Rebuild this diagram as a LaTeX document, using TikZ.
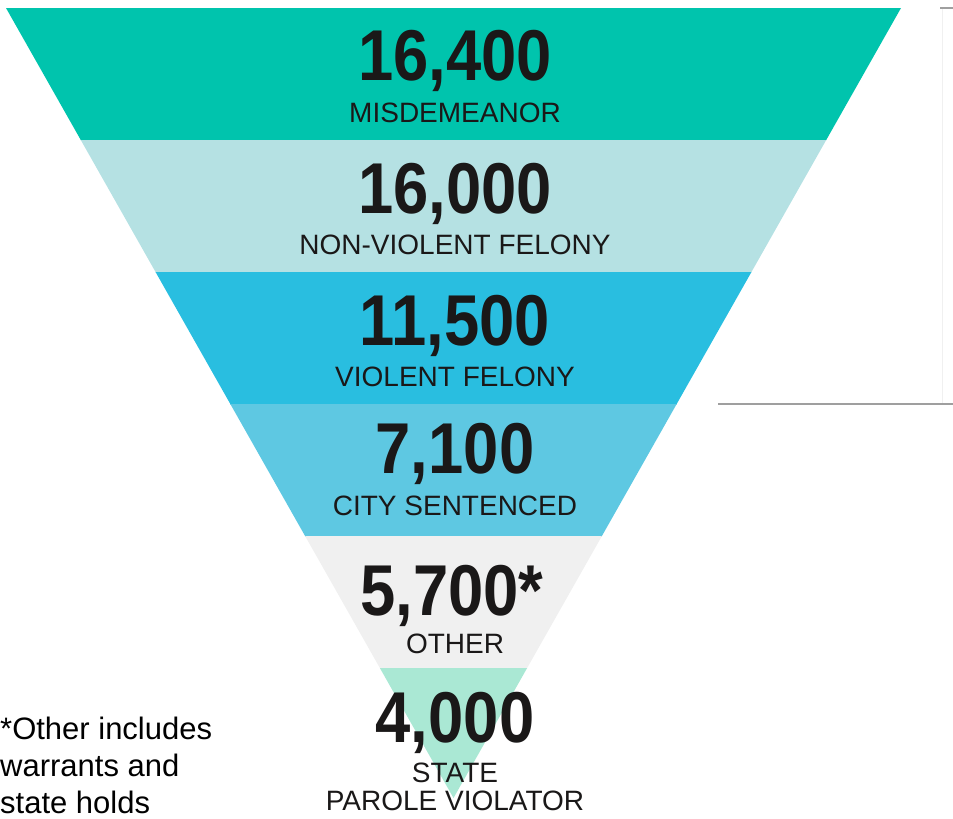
\documentclass[tikz,border=0pt]{standalone}
\usepackage{fontspec}
\setmainfont{Liberation Sans}
\newfontfamily\numfont[FakeStretch=0.88]{Liberation Sans}
\usetikzlibrary{positioning}

\definecolor{misd}{RGB}{0,196,173}
\definecolor{nonviol}{RGB}{181,225,227}
\definecolor{viol}{RGB}{41,190,224}
\definecolor{city}{RGB}{94,200,226}
\definecolor{othr}{RGB}{240,240,240}
\definecolor{parole}{RGB}{170,232,212}
\definecolor{ink}{RGB}{26,24,24}

\tikzset{
  count/.style={anchor=base, text=ink, inner sep=0pt,
    font=\numfont\bfseries\fontsize{72}{72}\selectfont},
  kind/.style={anchor=base, text=ink, inner sep=0pt,
    font=\fontsize{28}{28}\selectfont},
  note/.style={anchor=north west, inner sep=0pt, align=left,
    font=\fontsize{31}{37}\selectfont},
  rule/.style={draw=gray!75, line width=1.5pt}
}

\begin{document}
\begin{tikzpicture}[x=1pt,y=-1pt]
  \useasboundingbox (0,0) rectangle (953,819);

  % Funnel: one band of 132 units per category, clipped to the triangle
  \begin{scope}
    \clip (6,8) -- (901,8) -- (453.5,798) -- cycle;
    \foreach \top/\col in {8/misd, 140/nonviol, 272/viol, 404/city, 536/othr, 668/parole} {
      \fill[\col] (0,\top) rectangle (953,{\top+133});
    }
  \end{scope}

  % Counts and categories
  \node[count] (n1) at (455,80) {16,400};
  \node[kind]  (k1) at (455,122) {MISDEMEANOR};
  \node[count] (n2) at (455,213) {16,000};
  \node[kind]  (k2) at (455,254) {NON-VIOLENT FELONY};
  \node[count] (n3) at (455,345) {11,500};
  \node[kind]  (k3) at (455,386) {VIOLENT FELONY};
  \node[count] (n4) at (455,473) {7,100};
  \node[kind]  (k4) at (455,515) {CITY SENTENCED};
  \node[count] (n5) at (452,615) {5,700*};
  \node[kind]  (k5) at (455,653) {OTHER};
  \node[count] (n6) at (455,742) {4,000};
  \node[kind]  (k6) at (455,782) {STATE};
  \node[kind]  (k7) at (455,810) {PAROLE VIOLATOR};

  % Footnote
  \node[note] (fn) at (0,717) {*Other includes\\warrants and\\state holds};

  % Frame pieces on the right
  \draw[rule, line width=1.2pt] (940,8) -- (953,8);
  \draw[gray!12] (942,9) -- (942,403);
  \draw[rule] (718,404) -- (953,404);
\end{tikzpicture}
\end{document}
